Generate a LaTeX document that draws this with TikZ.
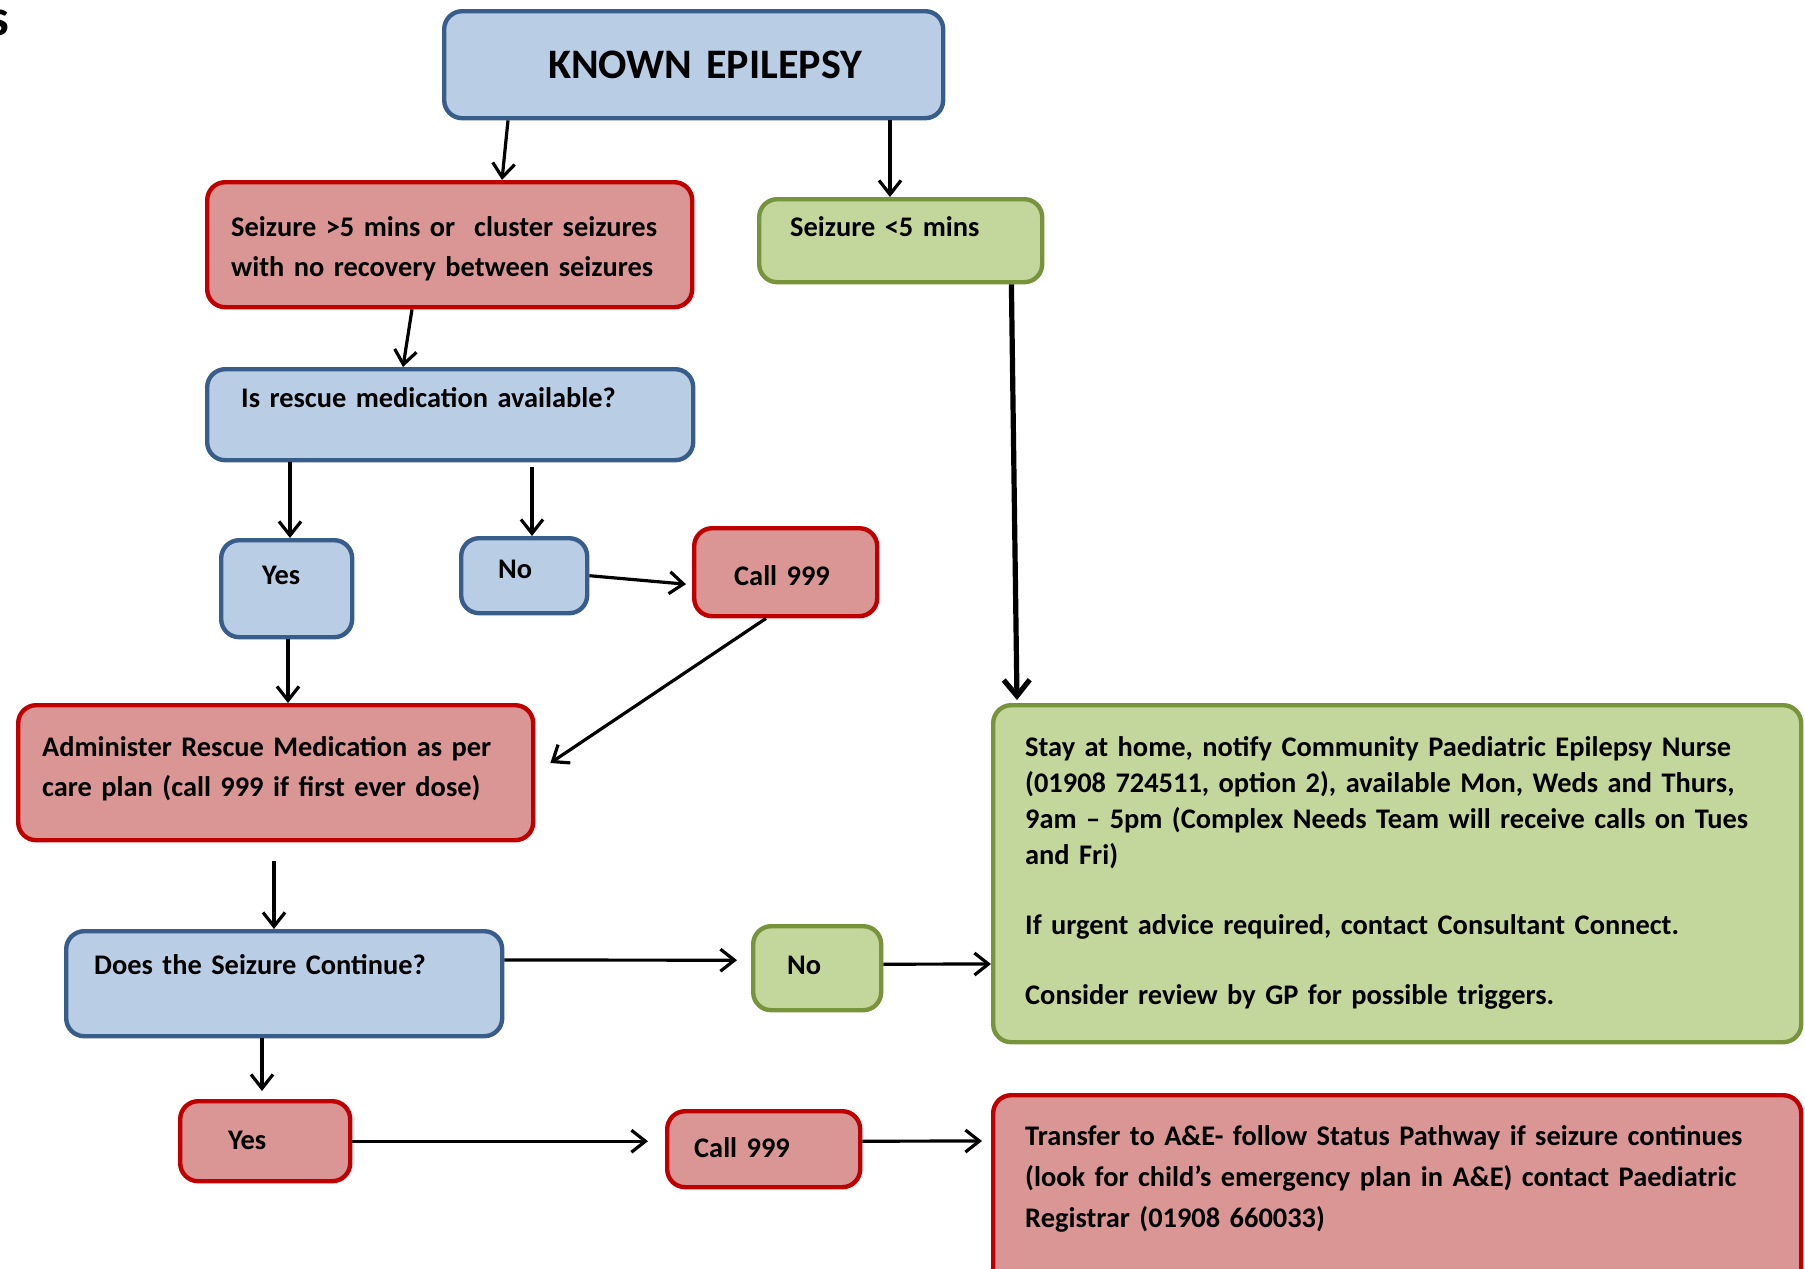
\documentclass[tikz,border=0pt]{standalone}
\usepackage{fontspec}
\setmainfont{Carlito}
\usetikzlibrary{arrows.meta}

\definecolor{bluefill}{HTML}{B9CDE5}
\definecolor{blueline}{HTML}{385D8A}
\definecolor{redfill}{HTML}{D99694}
\definecolor{redline}{HTML}{C00000}
\definecolor{greenfill}{HTML}{C3D69B}
\definecolor{greenline}{HTML}{77933C}

\tikzset{
    box/.style={anchor=north west, rounded corners=9pt, line width=2.2pt, align=left, inner ysep=0pt,
        font=\bfseries\fontsize{14.2}{20}\selectfont},
    bluebox/.style={box, draw=blueline, fill=bluefill},
    redbox/.style={box, draw=redline, fill=redfill},
    greenbox/.style={box, draw=greenline, fill=greenfill},
    arr/.style={-{Straight Barb[length=7pt,width=11pt]}, line width=1.6pt},
    thickarr/.style={-{Straight Barb[length=8pt,width=13pt]}, line width=2.6pt},
}

\begin{document}
\begin{tikzpicture}[x=0.5pt, y=-0.5pt]
    \useasboundingbox (0,0) rectangle (1805,1269);
    \node[anchor=base east, inner sep=0pt, font=\bfseries\fontsize{26}{30}\selectfont] (title) at (10,35) {s};

    % boxes
    \node[bluebox, inner xsep=52pt, text width=145.5pt, text height=33.8pt, text depth=19.7pt,
        font=\bfseries\fontsize{21}{25}\selectfont] (known) at (442,9) {KNOWN~EPILEPSY};
    \node[redbox, inner xsep=12pt, text width=218.5pt, text height=26.9pt, text depth=35.6pt] (longsz) at (205,180)
        {Seizure >5 mins or~ cluster seizures\\with no recovery between seizures};
    \node[greenbox, inner xsep=15.5pt, text width=110.5pt, text height=18.4pt, text depth=23.1pt] (shortsz) at (757,197)
        {Seizure <5 mins};
    \node[bluebox, inner xsep=17pt, text width=209pt, text height=18.9pt, text depth=26.6pt] (avail) at (205,367)
        {Is rescue medication available?};
    \node[bluebox, inner xsep=20.5pt, text width=24.5pt, text height=21.9pt, text depth=26.6pt] (yesa) at (219,538) {Yes};
    \node[bluebox, inner xsep=18.5pt, text width=26pt, text height=19.9pt, text depth=17.6pt] (noa) at (459,536) {No};
    \node[redbox, inner xsep=20pt, text width=51.5pt, text height=28.4pt, text depth=15.6pt] (calla) at (692,526) {Call~999};
    \node[redbox, inner xsep=12pt, text width=233.5pt, text height=25.4pt, text depth=42.1pt] (admin) at (16,703)
        {Administer Rescue Medication as per\\care plan (call 999 if first ever dose)};
    \node[bluebox, inner xsep=14pt, text width=190pt, text height=21.4pt, text depth=31.1pt] (cont) at (64,929)
        {Does the Seizure Continue?};
    \node[greenbox, inner xsep=17pt, text width=30pt, text height=23.9pt, text depth=18.1pt] (nob) at (751,924) {No};
    \node[greenbox, inner xsep=16pt, text width=372pt, text height=25.4pt, text depth=143.1pt,
        font=\bfseries\fontsize{14.2}{18}\selectfont] (stay) at (991,703)
        {Stay at home, notify Community Paediatric Epilepsy Nurse\\
        (01908 724511, option 2), available Mon, Weds and Thurs,\\
        9am – 5pm (Complex Needs Team will receive calls on Tues\\
        and Fri)\\[17pt]
        If urgent advice required, contact Consultant Connect.\\[17pt]
        Consider review by GP for possible triggers.};
    \node[redbox, inner xsep=24pt, text width=37pt, text height=23.9pt, text depth=16.1pt] (yesb) at (178,1099) {Yes};
    \node[redbox, inner xsep=13.5pt, text width=69.5pt, text height=22.9pt, text depth=15.1pt] (callb) at (665,1109) {Call~999};
    \node[redbox, inner xsep=16pt, text width=372pt, text height=24.9pt, text depth=78.6pt,
        font=\bfseries\fontsize{14.2}{20.5}\selectfont] (transfer) at (991,1093)
        {Transfer to A\&E- follow Status Pathway if seizure continues\\
        (look for child’s emergency plan in A\&E) contact Paediatric\\
        Registrar (01908 660033)};

    % arrows
    \draw[arr] ([shift={(66,0)}]known.south west) -- ([shift={(297,0)}]longsz.north west);
    \draw[arr] ([shift={(448,0)}]known.south west) -- ([shift={(133,0)}]shortsz.north west);
    \draw[arr] ([shift={(207,0)}]longsz.south west) -- ([shift={(198,0)}]avail.north west);
    \draw[arr] ([shift={(85,0)}]avail.south west) -- ([shift={(71,0)}]yesa.north west);
    \draw[arr] ([shift={(327,5)}]avail.south west) -- ([shift={(73,0)}]noa.north west);
    \draw[arr] (noa.east) -- ([shift={(-6,12)}]calla.west);
    \draw[arr] ([shift={(74,0)}]calla.south west) -- ([shift={(15,60)}]admin.north east);
    \draw[thickarr] ([shift={(-33,0)}]shortsz.south east) -- ([shift={(26,-3)}]stay.north west);
    \draw[arr] ([shift={(69,0)}]yesa.south west) -- ([shift={(272,0)}]admin.north west);
    \draw[arr] ([shift={(258,19)}]admin.south west) -- ([shift={(210,0)}]cont.north west);
    \draw[arr] ([shift={(0,31)}]cont.north east) -- ([shift={(-14,-8)}]nob.west);
    \draw[arr] ([shift={(0,-4)}]nob.east) -- ([shift={(0,261)}]stay.north west);
    \draw[arr] ([shift={(198,0)}]cont.south west) -- ([shift={(84,-8)}]yesb.north west);
    \draw[arr] (yesb.east) -- ([shift={(-17,-8)}]callb.west);
    \draw[arr] ([shift={(0,-8)}]callb.east) -- ([shift={(-9,48)}]transfer.north west);
\end{tikzpicture}
\end{document}
